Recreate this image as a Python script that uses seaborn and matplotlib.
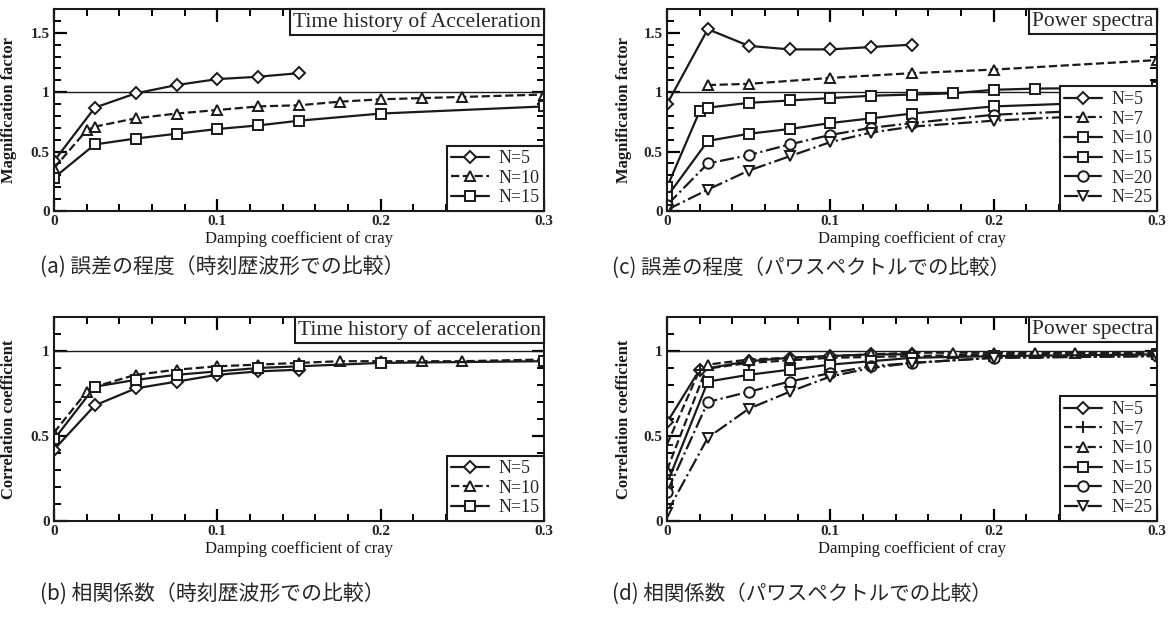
import numpy as np
import pandas as pd
import matplotlib
matplotlib.use("Agg")
import matplotlib.pyplot as plt
import seaborn as sns
from matplotlib.offsetbox import AnchoredText
from matplotlib.ticker import MultipleLocator, FixedLocator, FixedFormatter

# ---------------- data ----------------
x_ticks = [0.0, 0.1, 0.2, 0.3]
x_tick_labels = ["0", "0.1", "0.2", "0.3"]
y_ticks_mag = [0.0, 0.5, 1.0, 1.5]
y_tick_labels_mag = ["0", "0.5", "1", "1.5"]
y_ticks_cor = [0.0, 0.5, 1.0]
y_tick_labels_cor = ["0", "0.5", "1"]

# (a) magnification factor, time history
a_x5 = [0, 0.025, 0.05, 0.075, 0.1, 0.125, 0.15]
a_n5 = [0.42, 0.87, 0.99, 1.06, 1.11, 1.13, 1.16]
a_x10 = [0, 0.02, 0.025, 0.05, 0.075, 0.1, 0.125, 0.15, 0.175, 0.2, 0.225, 0.25, 0.3]
a_n10 = [0.36, 0.68, 0.71, 0.78, 0.82, 0.85, 0.88, 0.89, 0.92, 0.94, 0.95, 0.96, 0.98]
a_x15 = [0, 0.025, 0.05, 0.075, 0.1, 0.125, 0.15, 0.2, 0.3]
a_n15 = [0.28, 0.56, 0.61, 0.65, 0.69, 0.72, 0.76, 0.82, 0.88]

# (b) correlation coefficient, time history
b_x5 = [0, 0.025, 0.05, 0.075, 0.1, 0.125, 0.15]
b_n5 = [0.42, 0.68, 0.78, 0.82, 0.86, 0.88, 0.89]
b_x10 = [0, 0.02, 0.025, 0.05, 0.075, 0.1, 0.125, 0.15, 0.175, 0.2, 0.225, 0.25, 0.3]
b_n10 = [0.52, 0.76, 0.79, 0.86, 0.89, 0.91, 0.92, 0.93, 0.94, 0.94, 0.94, 0.94, 0.95]
b_x15 = [0, 0.025, 0.05, 0.075, 0.1, 0.125, 0.15, 0.2, 0.3]
b_n15 = [0.48, 0.79, 0.83, 0.86, 0.88, 0.90, 0.91, 0.93, 0.94]

# (c) magnification factor, power spectra
c_x5 = [0, 0.025, 0.05, 0.075, 0.1, 0.125, 0.15]
c_n5 = [0.90, 1.53, 1.39, 1.36, 1.36, 1.38, 1.40]
c_x7 = [0.025, 0.05, 0.1, 0.15, 0.2, 0.3]
c_n7 = [1.06, 1.07, 1.12, 1.16, 1.19, 1.27]
c_x10 = [0, 0.02, 0.025, 0.05, 0.075, 0.1, 0.125, 0.15, 0.175, 0.2, 0.225, 0.3]
c_n10 = [0.20, 0.84, 0.87, 0.91, 0.93, 0.95, 0.97, 0.98, 0.99, 1.02, 1.03, 1.04]
c_x15 = [0, 0.025, 0.05, 0.075, 0.1, 0.125, 0.15, 0.2, 0.3]
c_n15 = [0.12, 0.59, 0.65, 0.69, 0.74, 0.78, 0.82, 0.88, 0.93]
c_x20 = [0, 0.025, 0.05, 0.075, 0.1, 0.125, 0.15, 0.2, 0.3]
c_n20 = [0.05, 0.40, 0.47, 0.56, 0.64, 0.70, 0.74, 0.81, 0.87]
c_x25 = [0, 0.025, 0.05, 0.075, 0.1, 0.125, 0.15, 0.2, 0.3]
c_n25 = [0.01, 0.18, 0.34, 0.46, 0.58, 0.66, 0.71, 0.76, 0.83]

# (d) correlation coefficient, power spectra
d_x5 = [0, 0.02, 0.05, 0.075, 0.1, 0.125, 0.15]
d_n5 = [0.58, 0.89, 0.94, 0.96, 0.97, 0.98, 0.98]
d_x7 = [0, 0.02, 0.05, 0.1, 0.15, 0.2, 0.3]
d_n7 = [0.45, 0.89, 0.93, 0.96, 0.97, 0.98, 0.99]
d_x10 = [0, 0.025, 0.05, 0.075, 0.1, 0.125, 0.15, 0.175, 0.2, 0.225, 0.25, 0.3]
d_n10 = [0.30, 0.92, 0.95, 0.96, 0.97, 0.98, 0.99, 0.99, 0.99, 0.99, 0.99, 0.99]
d_x15 = [0, 0.025, 0.05, 0.075, 0.1, 0.125, 0.15, 0.2, 0.3]
d_n15 = [0.22, 0.82, 0.86, 0.89, 0.92, 0.94, 0.96, 0.97, 0.98]
d_x20 = [0, 0.025, 0.05, 0.075, 0.1, 0.125, 0.15, 0.2, 0.3]
d_n20 = [0.17, 0.70, 0.76, 0.82, 0.87, 0.91, 0.93, 0.96, 0.97]
d_x25 = [0, 0.025, 0.05, 0.075, 0.1, 0.125, 0.15, 0.2, 0.3]
d_n25 = [0.05, 0.49, 0.66, 0.76, 0.85, 0.90, 0.93, 0.96, 0.97]

x_label = "Damping coefficient of cray"
ylab_mag = "Magnification factor"
ylab_cor = "Correlation coefficient"
title_a = "Time history of Acceleration"
title_b = "Time history of acceleration"
title_cd = "Power spectra"
cap_a = "(a) 誤差の程度（時刻歴波形での比較）"
cap_b = "(b) 相関係数（時刻歴波形での比較）"
cap_c = "(c) 誤差の程度（パワスペクトルでの比較）"
cap_d = "(d) 相関係数（パワスペクトルでの比較）"

# ---------------- style ----------------
sns.set_theme(style="ticks", rc={"xtick.direction": "in", "ytick.direction": "in"})
plt.rcParams["font.family"] = ["Liberation Serif", "DejaVu Serif"]

SERIF = ["Liberation Serif", "DejaVu Serif"]
CJK = ["Noto Sans CJK JP", "DejaVu Sans"]

fig = plt.figure(figsize=(11.73, 6.17), dpi=100)
W, H = 1173.0, 617.0


def make_ax(l, r, t, b):
    return fig.add_axes([l / W, 1 - b / H, (r - l) / W, (b - t) / H])


ax_a = make_ax(54, 544, 9, 211)
ax_c = make_ax(667, 1157, 9, 211)
ax_b = make_ax(54, 544, 317, 521)
ax_d = make_ax(667, 1157, 317, 521)


def series(ax, x, y, label, marker, ls, ms=6.5, lw=1.6):
    df = pd.DataFrame({"x": x, "y": y})
    sns.lineplot(data=df, x="x", y="y", ax=ax, color="k", marker=marker,
                 markersize=ms, markerfacecolor="white", markeredgecolor="k",
                 markeredgewidth=1.4, linestyle=ls, linewidth=lw,
                 label=label, sort=False, estimator=None)


def finish(ax, ylim, yticks, yticklabels, ylabel, title):
    ax.axhline(1.0, color="k", lw=1.0, zorder=1)
    ax.set_xlim(0, 0.3)
    ax.set_ylim(*ylim)
    ax.xaxis.set_major_locator(FixedLocator(x_ticks))
    ax.xaxis.set_major_formatter(FixedFormatter(x_tick_labels))
    ax.xaxis.set_minor_locator(MultipleLocator(0.02))
    ax.yaxis.set_major_locator(FixedLocator(yticks))
    ax.yaxis.set_major_formatter(FixedFormatter(yticklabels))
    ax.yaxis.set_minor_locator(MultipleLocator(0.1))
    ax.tick_params(axis="both", which="both", direction="in",
                   top=True, right=True, color="black")
    ax.tick_params(axis="both", which="major", length=9, width=1.6, pad=3,
                   labelsize=11)
    ax.tick_params(axis="both", which="minor", length=5, width=1.4)
    for lab in ax.get_xticklabels() + ax.get_yticklabels():
        lab.set_fontweight("bold")
        lab.set_family(SERIF)
    for s in ax.spines.values():
        s.set_visible(True)
        s.set_color("k")
        s.set_linewidth(1.5)
    ax.set_xlabel(x_label, fontsize=12, family=SERIF, color="k", labelpad=2)
    ax.set_ylabel(ylabel, fontsize=12, family=SERIF, fontweight="bold",
                  color="k", labelpad=6)
    at = AnchoredText(title, loc="upper right", frameon=True, pad=0.15,
                      borderpad=0, prop=dict(size=15.5, family=SERIF))
    at.patch.set_boxstyle("square,pad=0")
    at.patch.set_edgecolor("k")
    at.patch.set_linewidth(1.5)
    ax.add_artist(at)
    leg = ax.legend(loc="lower right", borderaxespad=0, fancybox=False,
                    framealpha=1, edgecolor="k", prop=dict(size=13, family=SERIF),
                    handlelength=2.1, handletextpad=0.5, labelspacing=0.15,
                    borderpad=0.25)
    leg.get_frame().set_linewidth(1.5)
    leg.set_zorder(5)


# (a)
series(ax_a, a_x5, a_n5, "N=5", "D", "-", ms=6)
series(ax_a, a_x10, a_n10, "N=10", "^", "--")
series(ax_a, a_x15, a_n15, "N=15", "s", "-")
finish(ax_a, (0, 1.7), y_ticks_mag, y_tick_labels_mag, ylab_mag, title_a)

# (b)
series(ax_b, b_x5, b_n5, "N=5", "D", "-", ms=6)
series(ax_b, b_x10, b_n10, "N=10", "^", "--")
series(ax_b, b_x15, b_n15, "N=15", "s", "-")
finish(ax_b, (0, 1.2), y_ticks_cor, y_tick_labels_cor, ylab_cor, title_b)

# (c)
series(ax_c, c_x5, c_n5, "N=5", "D", "-", ms=6)
series(ax_c, c_x7, c_n7, "N=7", "^", "--")
series(ax_c, c_x10, c_n10, "N=10", "s", "-")
series(ax_c, c_x15, c_n15, "N=15", "s", "-")
series(ax_c, c_x20, c_n20, "N=20", "o", "-.", ms=7.5)
series(ax_c, c_x25, c_n25, "N=25", "v", "-.")
finish(ax_c, (0, 1.7), y_ticks_mag, y_tick_labels_mag, ylab_mag, title_cd)

# (d)
series(ax_d, d_x5, d_n5, "N=5", "D", "-", ms=6)
series(ax_d, d_x7, d_n7, "N=7", "+", "--", ms=8)
series(ax_d, d_x10, d_n10, "N=10", "^", "--")
series(ax_d, d_x15, d_n15, "N=15", "s", "-")
series(ax_d, d_x20, d_n20, "N=20", "o", "-.", ms=7.5)
series(ax_d, d_x25, d_n25, "N=25", "v", "-.")
finish(ax_d, (0, 1.2), y_ticks_cor, y_tick_labels_cor, ylab_cor, title_cd)

for ax, xl in [(ax_a, -0.075), (ax_b, -0.075), (ax_c, -0.071), (ax_d, -0.071)]:
    ax.yaxis.set_label_coords(xl, 0.5)

# captions
fig.text(40 / W, 1 - 268 / H, cap_a, fontsize=15, family=CJK, va="center", ha="left")
fig.text(40 / W, 1 - 594 / H, cap_b, fontsize=15, family=CJK, va="center", ha="left")
fig.text(612 / W, 1 - 268 / H, cap_c, fontsize=14.8, family=CJK, va="center", ha="left")
fig.text(612 / W, 1 - 594 / H, cap_d, fontsize=14.8, family=CJK, va="center", ha="left")

fig.savefig("out.png", dpi=100, facecolor="white")
